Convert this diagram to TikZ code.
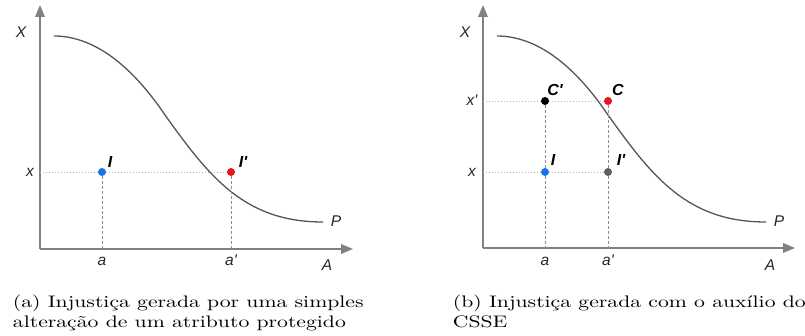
\documentclass[tikz,border=0pt]{standalone}
\usepackage{fontspec}
\newfontfamily\lsans{Liberation Sans}
\usetikzlibrary{arrows.meta}
\definecolor{axisgray}{HTML}{808080}
\definecolor{curvegray}{HTML}{555555}
\definecolor{dotline}{HTML}{B4B4B4}
\definecolor{dashline}{HTML}{8C8C8C}
\definecolor{ptblue}{HTML}{1A73E8}
\definecolor{ptred}{HTML}{E8141C}
\definecolor{ptgray}{HTML}{5F5F5F}
\tikzset{
  axis/.style={draw=axisgray, line width=1.8pt, -{Triangle[length=12pt,width=9.5pt]}},
  curvestyle/.style={draw=curvegray, line width=1.3pt},
  hdots/.style={draw=dotline, line width=0.9pt, dash pattern={on 1pt off 2pt}},
  vdash/.style={draw=dashline, line width=0.9pt, dash pattern={on 3pt off 2pt}},
  ptstyle/.style={circle, inner sep=0pt, minimum size=8pt},
  lab/.style={font=\lsans\itshape\fontsize{15.5}{15.5}\selectfont, inner sep=0pt, text=black!85},
  plab/.style={font=\lsans\bfseries\itshape\fontsize{16}{16}\selectfont, inner sep=0pt},
  capstyle/.style={font=\fontsize{10}{12}\selectfont, anchor=base west, inner sep=0pt, xscale=2.17, yscale=1.67}
}
\begin{document}
\begin{tikzpicture}[x=1pt,y=-1pt]
\useasboundingbox (0,0) rectangle (805,336);
% ---------- left panel ----------
\coordinate (oL) at (40,249);
\coordinate (yL) at (40,5);
\coordinate (xL) at (353,249);
\draw[axis] (oL) -- (yL);
\draw[axis] (oL) -- (xL);
\node[lab] (XL) at (21,32) {X};
\node[lab] (AL) at (327,265) {A};
\node[lab] (xlL) at (30,172) {x};
\node[lab] (alL) at (102,261) {a};
\node[lab] (aplL) at (231,260) {a'};
\draw[curvestyle] (54,36) .. controls (100,36) and (138,75) .. (165,115)
  .. controls (210,178) and (245,222) .. (323,222);
\node[lab] (PL) at (336,221) {P};
\coordinate (hxL) at (40,172);
\coordinate (baL) at (102,249);
\coordinate (bapL) at (231,249);
\node[ptstyle, fill=ptblue] (IL) at (102,172) {};
\node[ptstyle, fill=ptred] (IpL) at (231,172) {};
\draw[hdots] (hxL) -- (IL) -- (IpL);
\draw[vdash] (IL) -- (baL);
\draw[vdash] (IpL) -- (bapL);
\node[plab] (ILlab) at (110,162) {I};
\node[plab] (IpLlab) at (243,162) {I'};
% ---------- right panel ----------
\coordinate (oR) at (483,248);
\coordinate (yR) at (483,5);
\coordinate (xR) at (795,248);
\draw[axis] (oR) -- (yR);
\draw[axis] (oR) -- (xR);
\node[lab] (XR) at (465,32) {X};
\node[lab] (AR) at (770,265) {A};
\node[lab] (xpR) at (472,100) {x'};
\node[lab] (xlR) at (472,172) {x};
\node[lab] (alR) at (545,261) {a};
\node[lab] (aplR) at (608,260) {a'};
\draw[curvestyle] (497,36) .. controls (543,36) and (581,75) .. (608,115)
  .. controls (653,178) and (688,222) .. (766,222);
\node[lab] (PR) at (779,221) {P};
\coordinate (hxpR) at (483,101);
\coordinate (hxR) at (483,172);
\coordinate (baR) at (545,248);
\coordinate (bapR) at (608,248);
\node[ptstyle, fill=black] (CpR) at (545,101) {};
\node[ptstyle, fill=ptred] (CR) at (608,101) {};
\node[ptstyle, fill=ptblue] (IR) at (545,172) {};
\node[ptstyle, fill=ptgray] (IpR) at (608,172) {};
\draw[hdots] (hxpR) -- (CpR) -- (CR);
\draw[hdots] (hxR) -- (IR) -- (IpR);
\draw[vdash] (CpR) -- (IR) -- (baR);
\draw[vdash] (CR) -- (IpR) -- (bapR);
\node[plab] (CpRlab) at (555,90) {C'};
\node[plab] (CRlab) at (618,90) {C};
\node[plab] (IRlab) at (553,160) {I};
\node[plab] (IpRlab) at (621,160) {I'};
% ---------- captions ----------
\node[capstyle] (capa1) at (12.5,307.5) {(a) Injustiça gerada por uma simples};
\node[capstyle] (capa2) at (12.5,327.5) {alteração de um atributo protegido};
\node[capstyle] (capb1) at (452.5,307.5) {(b) Injustiça gerada com o auxílio do};
\node[capstyle] (capb2) at (452.5,327.5) {CSSE};
\end{tikzpicture}
\end{document}
